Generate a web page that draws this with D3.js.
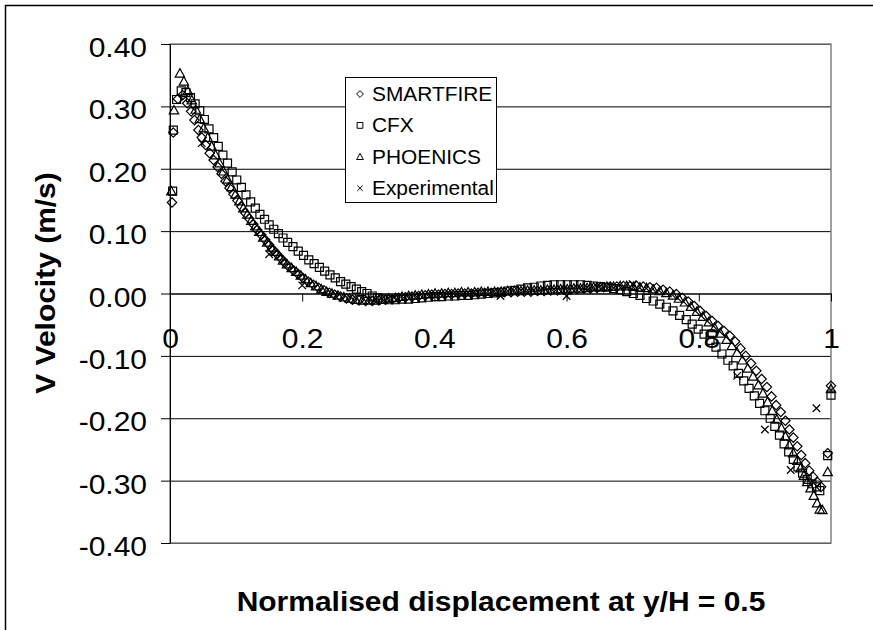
<!DOCTYPE html>
<html>
<head>
<meta charset="utf-8">
<script src="https://cdn.jsdelivr.net/npm/d3@7"></script>
<style>
  body { margin: 0; background: #fff; }
  svg text { font-family: "Liberation Sans", Arial, sans-serif; fill: #000; }
</style>
</head>
<body>
<div id="chart"></div>
<script>
// tick values
const xTicks = [0, 0.2, 0.4, 0.6, 0.8, 1];
const yTicks = [0.4, 0.3, 0.2, 0.1, 0, -0.1, -0.2, -0.3, -0.4];

const seriesNames = ['SMARTFIRE', 'CFX', 'PHOENICS', 'Experimental'];

// [normalised displacement, V velocity]
const smartfire = [
  [0.003,0.146],[0.005,0.258],[0.012,0.312],[0.019,0.318],[0.026,0.305],[0.032,0.292],[0.037,0.278],
  [0.043,0.262],[0.048,0.25],[0.054,0.238],[0.06,0.225],[0.066,0.214],[0.072,0.203],[0.078,0.192],
  [0.084,0.18],[0.09,0.169],[0.096,0.159],[0.102,0.149],[0.108,0.139],[0.114,0.129],[0.12,0.12],
  [0.126,0.111],[0.132,0.102],[0.138,0.094],[0.144,0.086],[0.15,0.078],[0.156,0.07],[0.162,0.063],
  [0.168,0.056],[0.174,0.049],[0.18,0.043],[0.187,0.037],[0.194,0.031],[0.201,0.025],[0.209,0.019],
  [0.217,0.014],[0.225,0.009],[0.233,0.005],[0.241,0.001],[0.249,-0.002],[0.258,-0.005],[0.267,-0.008],
  [0.276,-0.01],[0.286,-0.011],[0.296,-0.012],[0.306,-0.012],[0.316,-0.011],[0.326,-0.01],[0.336,-0.009],
  [0.346,-0.007],[0.356,-0.006],[0.366,-0.005],[0.376,-0.004],[0.386,-0.003],[0.396,-0.002],[0.406,-0.002],
  [0.416,-0.001],[0.426,-0.001],[0.436,0],[0.446,0],[0.456,0],[0.466,0.001],[0.476,0.001],[0.486,0.001],
  [0.496,0.002],[0.506,0.002],[0.516,0.002],[0.526,0.003],[0.536,0.003],[0.546,0.003],[0.556,0.004],
  [0.566,0.004],[0.576,0.005],[0.586,0.005],[0.596,0.006],[0.606,0.006],[0.616,0.007],[0.626,0.008],
  [0.636,0.008],[0.646,0.009],[0.656,0.01],[0.666,0.011],[0.676,0.011],[0.686,0.012],[0.696,0.012],
  [0.706,0.012],[0.716,0.011],[0.726,0.01],[0.736,0.009],[0.746,0.006],[0.756,0.003],[0.766,-0.001],
  [0.775,-0.007],[0.784,-0.013],[0.793,-0.02],[0.802,-0.028],[0.811,-0.036],[0.82,-0.044],[0.829,-0.052],
  [0.838,-0.06],[0.847,-0.068],[0.855,-0.077],[0.863,-0.088],[0.871,-0.1],[0.879,-0.112],[0.887,-0.124],
  [0.895,-0.137],[0.903,-0.15],[0.91,-0.165],[0.917,-0.179],[0.924,-0.19],[0.931,-0.204],[0.937,-0.218],
  [0.943,-0.231],[0.949,-0.245],[0.955,-0.259],[0.961,-0.272],[0.967,-0.284],[0.973,-0.294],[0.979,-0.302],
  [0.985,-0.31],[0.995,-0.256],[1.0,-0.148]
];

const cfx = [
  [0.004,0.164],[0.005,0.262],[0.01,0.311],[0.017,0.325],[0.024,0.322],[0.031,0.314],[0.038,0.304],
  [0.045,0.293],[0.052,0.279],[0.059,0.264],[0.066,0.25],[0.073,0.236],[0.08,0.222],[0.087,0.209],
  [0.094,0.195],[0.101,0.182],[0.108,0.17],[0.115,0.158],[0.122,0.147],[0.129,0.137],[0.136,0.127],
  [0.143,0.119],[0.15,0.11],[0.157,0.103],[0.164,0.096],[0.171,0.089],[0.178,0.082],[0.186,0.075],
  [0.194,0.068],[0.202,0.061],[0.21,0.054],[0.218,0.048],[0.226,0.042],[0.234,0.036],[0.242,0.03],
  [0.25,0.025],[0.258,0.019],[0.266,0.015],[0.274,0.011],[0.282,0.007],[0.29,0.003],[0.298,0],
  [0.306,-0.004],[0.314,-0.007],[0.322,-0.009],[0.331,-0.01],[0.341,-0.01],[0.351,-0.009],[0.361,-0.009],
  [0.371,-0.008],[0.381,-0.007],[0.391,-0.006],[0.401,-0.005],[0.411,-0.005],[0.421,-0.004],[0.431,-0.004],
  [0.441,-0.003],[0.451,-0.003],[0.461,-0.002],[0.471,-0.001],[0.481,0],[0.491,0.001],[0.501,0.002],
  [0.511,0.004],[0.521,0.005],[0.531,0.007],[0.541,0.009],[0.551,0.01],[0.561,0.012],[0.571,0.013],
  [0.581,0.014],[0.591,0.014],[0.601,0.014],[0.611,0.014],[0.621,0.014],[0.631,0.013],[0.641,0.012],
  [0.651,0.011],[0.661,0.01],[0.671,0.008],[0.681,0.006],[0.691,0.003],[0.701,0],[0.711,-0.003],
  [0.721,-0.008],[0.731,-0.012],[0.741,-0.017],[0.751,-0.022],[0.761,-0.028],[0.771,-0.035],[0.781,-0.042],
  [0.79,-0.049],[0.799,-0.057],[0.808,-0.065],[0.817,-0.075],[0.826,-0.086],[0.835,-0.097],[0.844,-0.107],
  [0.852,-0.116],[0.86,-0.128],[0.868,-0.14],[0.876,-0.152],[0.884,-0.164],[0.892,-0.176],[0.9,-0.188],
  [0.908,-0.2],[0.915,-0.213],[0.922,-0.227],[0.929,-0.241],[0.936,-0.254],[0.943,-0.266],[0.95,-0.278],
  [0.957,-0.288],[0.964,-0.298],[0.971,-0.305],[0.978,-0.31],[0.983,-0.316],[0.995,-0.26],[1.0,-0.163]
];

const phoenics = [
  [0.002,0.164],[0.006,0.294],[0.015,0.353],[0.021,0.34],[0.027,0.325],[0.033,0.31],[0.039,0.295],
  [0.045,0.28],[0.051,0.265],[0.057,0.25],[0.063,0.236],[0.069,0.222],[0.075,0.209],[0.081,0.196],
  [0.087,0.183],[0.093,0.171],[0.099,0.159],[0.105,0.148],[0.111,0.137],[0.117,0.127],[0.123,0.117],
  [0.129,0.108],[0.135,0.099],[0.141,0.09],[0.147,0.082],[0.153,0.074],[0.159,0.067],[0.165,0.06],
  [0.171,0.053],[0.177,0.047],[0.184,0.041],[0.191,0.035],[0.198,0.029],[0.205,0.023],[0.213,0.017],
  [0.221,0.012],[0.229,0.007],[0.237,0.003],[0.245,0],[0.254,-0.003],[0.263,-0.006],[0.272,-0.008],
  [0.281,-0.01],[0.291,-0.011],[0.301,-0.011],[0.311,-0.011],[0.321,-0.01],[0.331,-0.008],[0.341,-0.007],
  [0.351,-0.005],[0.361,-0.004],[0.371,-0.003],[0.381,-0.002],[0.391,-0.001],[0.401,0],[0.411,0],
  [0.421,0.001],[0.431,0.001],[0.441,0.002],[0.451,0.002],[0.461,0.002],[0.471,0.003],[0.481,0.003],
  [0.491,0.003],[0.501,0.003],[0.511,0.004],[0.521,0.004],[0.531,0.004],[0.541,0.005],[0.551,0.005],
  [0.561,0.005],[0.571,0.006],[0.581,0.006],[0.591,0.007],[0.601,0.007],[0.611,0.008],[0.621,0.008],
  [0.631,0.009],[0.641,0.01],[0.651,0.01],[0.661,0.011],[0.671,0.011],[0.681,0.012],[0.691,0.012],
  [0.701,0.011],[0.711,0.01],[0.721,0.009],[0.731,0.007],[0.741,0.004],[0.751,0.001],[0.761,-0.003],
  [0.77,-0.008],[0.779,-0.014],[0.788,-0.021],[0.797,-0.029],[0.806,-0.037],[0.815,-0.046],[0.824,-0.055],
  [0.833,-0.064],[0.842,-0.074],[0.85,-0.084],[0.858,-0.095],[0.866,-0.107],[0.874,-0.12],[0.882,-0.133],
  [0.89,-0.147],[0.897,-0.16],[0.904,-0.174],[0.911,-0.188],[0.918,-0.202],[0.925,-0.216],[0.931,-0.229],
  [0.937,-0.243],[0.943,-0.256],[0.949,-0.268],[0.954,-0.28],[0.959,-0.292],[0.964,-0.302],[0.969,-0.312],
  [0.974,-0.324],[0.979,-0.336],[0.983,-0.346],[0.987,-0.347],[0.995,-0.286],[1.0,-0.153]
];

const experimental = [
  [0.048,0.241],[0.15,0.063],[0.2,0.013],[0.5,-0.004],[0.6,-0.004],[0.7,0.015],
  [0.858,-0.132],[0.9,-0.218],[0.939,-0.283],[0.978,-0.184]
];

const svgWidth = 873, svgHeight = 630;
const plot = { left: 170, right: 831, top: 44, bottom: 543 };
const stretch = 1.07; // text in the picture is a bit wider than plain Arial

const svg = d3.select('#chart')
  .append('svg')
  .attr('width', svgWidth)
  .attr('height', svgHeight);

// outer chart frame (runs off the right and bottom edges)
svg.append('rect')
  .attr('x', 5.5).attr('y', 5.5)
  .attr('width', 900).attr('height', 700)
  .attr('fill', '#fff')
  .attr('stroke', '#000')
  .attr('stroke-width', 1.5);

const xScale = d3.scaleLinear().domain([0, 1]).range([plot.left, plot.right]);
const yScale = d3.scaleLinear().domain([-0.4, 0.4]).range([plot.bottom, plot.top]);

// horizontal gridlines
svg.append('g')
  .attr('class', 'grid')
  .attr('transform', `translate(${plot.left},0)`)
  .call(d3.axisLeft(yScale).tickValues(yTicks).tickSize(-(plot.right - plot.left)).tickFormat(''))
  .call(g => g.select('.domain').remove())
  .call(g => g.selectAll('line').attr('stroke', '#000'));

// plot area border
svg.append('rect')
  .attr('x', plot.left).attr('y', plot.top)
  .attr('width', plot.right - plot.left).attr('height', plot.bottom - plot.top)
  .attr('fill', 'none')
  .attr('stroke', '#808080')
  .attr('stroke-width', 1.5);

// y axis
svg.append('g')
  .attr('class', 'y-axis')
  .attr('transform', `translate(${plot.left},0)`)
  .call(d3.axisLeft(yScale).tickValues(yTicks).tickSize(9).tickSizeOuter(0).tickPadding(14)
    .tickFormat(d => d.toFixed(2)))
  .call(g => g.selectAll('line, .domain').attr('stroke', '#000'))
  .call(g => g.selectAll('text').attr('font-size', 28).attr('dy', '0.45em'));

// x axis at v = 0
svg.append('g')
  .attr('class', 'x-axis')
  .attr('transform', `translate(0,${yScale(0)})`)
  .call(d3.axisBottom(xScale).tickValues(xTicks).tickSize(8).tickSizeOuter(0).tickPadding(27)
    .tickFormat(d => (d === 0 || d === 1) ? String(d) : d.toFixed(1)))
  .call(g => g.selectAll('line, .domain').attr('stroke', '#000'))
  .call(g => g.selectAll('text').attr('font-size', 28));

// axis titles
svg.append('text')
  .attr('class', 'x-title')
  .attr('x', 501)
  .attr('y', 611)
  .attr('text-anchor', 'middle')
  .attr('font-size', 28)
  .attr('font-weight', 'bold')
  .text('Normalised displacement at y/H = 0.5');

svg.append('text')
  .attr('class', 'y-title')
  .attr('transform', 'rotate(-90)')
  .attr('x', -283)
  .attr('y', 55)
  .attr('text-anchor', 'middle')
  .attr('font-size', 28)
  .attr('font-weight', 'bold')
  .text('V Velocity (m/s)');

// marker shapes, Excel style
const shapes = {
  SMARTFIRE: r => `M0,${-r}L${r},0L0,${r}L${-r},0Z`,
  CFX: r => `M${-r * 0.85},${-r * 0.85}H${r * 0.85}V${r * 0.85}H${-r * 0.85}Z`,
  PHOENICS: r => `M0,${-r}L${r},${r * 0.8}H${-r}Z`,
  Experimental: r => `M${-r * 0.8},${-r * 0.8}L${r * 0.8},${r * 0.8}M${r * 0.8},${-r * 0.8}L${-r * 0.8},${r * 0.8}`
};

const seriesData = [smartfire, cfx, phoenics, experimental];

seriesData.forEach((data, i) => {
  const name = seriesNames[i];
  svg.append('g')
    .attr('class', 'series')
    .selectAll('path')
    .data(data)
    .enter()
    .append('path')
    .attr('transform', d => `translate(${xScale(d[0])},${yScale(d[1])})`)
    .attr('d', shapes[name](4.7))
    .attr('fill', 'none')
    .attr('stroke', '#000')
    .attr('stroke-width', 1.2);
});

// legend
const legend = svg.append('g').attr('class', 'legend');
legend.append('rect')
  .attr('x', 345.5).attr('y', 77.5)
  .attr('width', 151).attr('height', 125)
  .attr('fill', '#fff')
  .attr('stroke', '#000');

const row = legend.selectAll('g.legend-row')
  .data(seriesNames)
  .enter()
  .append('g')
  .attr('class', 'legend-row')
  .attr('transform', (d, i) => `translate(360, ${94 + i * 31.4})`);

row.append('path')
  .attr('d', d => shapes[d](3.4))
  .attr('fill', 'none')
  .attr('stroke', '#000');

row.append('text')
  .attr('x', 12)
  .attr('y', 7)
  .attr('font-size', 19.5)
  .text(d => d);

// widen all text a little to match the picture's letter shapes
svg.selectAll('text').each(function () {
  const w = this.getComputedTextLength();
  d3.select(this).attr('textLength', w * stretch).attr('lengthAdjust', 'spacingAndGlyphs');
});
</script>
</body>
</html>
